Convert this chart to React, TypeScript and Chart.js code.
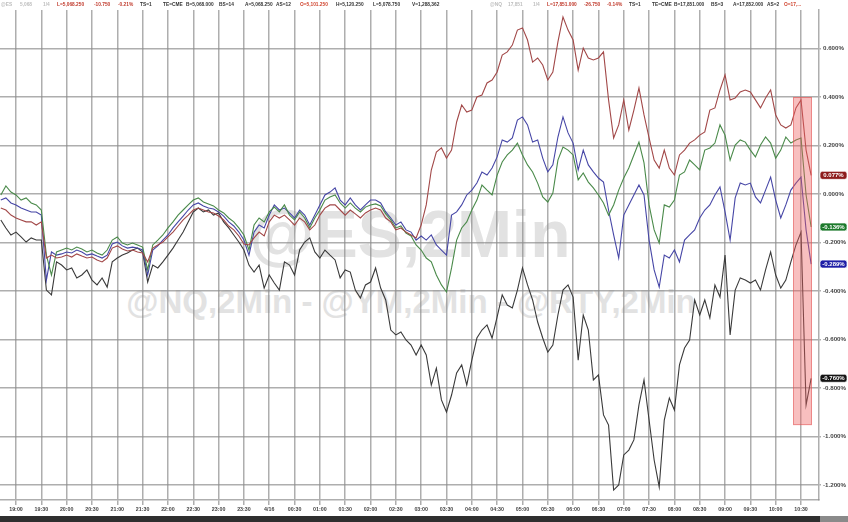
import React, { useEffect, useRef } from "react";
import { Chart, registerables } from "chart.js";

Chart.register(...registerables);

// Sampling grid: minutes relative to 19:00 (previous evening), 6-minute samples
const SAMPLE_START_MIN = -18;
const SAMPLE_STEP_MIN = 6;

// % change series
const nqRed = [
  -0.058, -0.066, -0.087, -0.099, -0.107, -0.115, -0.115, -0.128, -0.115, -0.264, -0.252,
  -0.264, -0.26, -0.252, -0.26, -0.247, -0.256, -0.264, -0.26, -0.272, -0.28,
  -0.264, -0.223, -0.214, -0.227, -0.235, -0.231, -0.239, -0.243, -0.28, -0.223,
  -0.21, -0.198, -0.177, -0.157, -0.132, -0.107, -0.087, -0.066, -0.058, -0.066,
  -0.074, -0.078, -0.091, -0.107, -0.132, -0.148, -0.173, -0.206, -0.21, -0.181,
  -0.157, -0.173, -0.115, -0.087, -0.099, -0.087, -0.107, -0.128, -0.099, -0.115,
  -0.148, -0.128, -0.087, -0.058, -0.045, -0.045, -0.066, -0.087, -0.066, -0.082,
  -0.099, -0.078, -0.066, -0.058, -0.066, -0.099, -0.115, -0.148, -0.14, -0.157,
  -0.169, -0.181, -0.128, -0.045, 0.099, 0.173, 0.19, 0.148, 0.181, 0.297,
  0.367, 0.338, 0.346, 0.4, 0.408, 0.458, 0.47, 0.503, 0.573, 0.586,
  0.614, 0.676, 0.685, 0.635, 0.544, 0.561, 0.532, 0.47, 0.503, 0.627,
  0.73, 0.676, 0.635, 0.511, 0.602, 0.561, 0.553, 0.561, 0.586, 0.388,
  0.231, 0.285, 0.388, 0.264, 0.346, 0.437, 0.326, 0.231, 0.14, 0.107,
  0.181, 0.107, 0.078, 0.161, 0.181, 0.21, 0.223, 0.243, 0.256, 0.346,
  0.355, 0.429, 0.491, 0.388, 0.396, 0.421, 0.429, 0.421, 0.388, 0.355,
  0.396, 0.429, 0.326, 0.285, 0.272, 0.285, 0.355, 0.388, 0.181, 0.077,
];

const esGreen = [
  -0.004, 0.033, 0.008, -0.004, -0.025, -0.016, -0.037, -0.045, -0.066, -0.252, -0.334,
  -0.239, -0.231, -0.223, -0.231, -0.219, -0.227, -0.239, -0.231, -0.243, -0.252,
  -0.231, -0.19, -0.177, -0.202, -0.21, -0.202, -0.21, -0.219, -0.313, -0.21,
  -0.19, -0.169, -0.14, -0.115, -0.087, -0.066, -0.045, -0.025, -0.016, -0.033,
  -0.041, -0.049, -0.066, -0.078, -0.099, -0.115, -0.14, -0.169, -0.231, -0.128,
  -0.099, -0.115, -0.074, -0.054, -0.074, -0.045, -0.087, -0.107, -0.074, -0.099,
  -0.14, -0.099, -0.066, -0.025, -0.012, -0.004, -0.037, -0.058, -0.037, -0.058,
  -0.074, -0.054, -0.045, -0.041, -0.049, -0.082, -0.107, -0.14, -0.132, -0.161,
  -0.173, -0.21, -0.231, -0.264, -0.28, -0.334, -0.375, -0.404, -0.305, -0.19,
  -0.14, -0.115, -0.066, -0.025, 0.037, 0.016, -0.004, 0.078, 0.132, 0.161,
  0.181, 0.21, 0.161, 0.12, 0.091, 0.045, -0.012, -0.033, 0.004, 0.14,
  0.194, 0.181, 0.161, 0.058, 0.087, 0.049, 0.025, -0.004, -0.037, -0.087,
  -0.045, 0.016, 0.066, 0.107, 0.161, 0.214, 0.128, -0.045, -0.148, -0.202,
  -0.045, -0.054, -0.025, 0.078, 0.091, 0.14, 0.12, 0.099, 0.181, 0.19,
  0.21, 0.285, 0.243, 0.14, 0.202, 0.223, 0.214, 0.181, 0.153, 0.202,
  0.235, 0.21, 0.148, 0.181, 0.235, 0.21, 0.223, 0.231, -0.004, -0.136,
];

const ymBlue = [
  -0.025, -0.016, -0.037, -0.045, -0.058, -0.066, -0.074, -0.074, -0.087, -0.355, -0.239,
  -0.252, -0.247, -0.239, -0.243, -0.231, -0.239, -0.252, -0.247, -0.256, -0.264,
  -0.252, -0.206, -0.198, -0.214, -0.223, -0.219, -0.223, -0.231, -0.334, -0.231,
  -0.214, -0.19, -0.169, -0.14, -0.115, -0.091, -0.066, -0.045, -0.037, -0.049,
  -0.058, -0.062, -0.074, -0.091, -0.115, -0.132, -0.157, -0.19, -0.252, -0.157,
  -0.128, -0.14, -0.087, -0.045, -0.066, -0.058, -0.078, -0.099, -0.066, -0.087,
  -0.128, -0.087, -0.045, -0.004, 0.008, 0.025, -0.025, -0.045, -0.016, -0.045,
  -0.066, -0.045, -0.025, -0.025, -0.037, -0.074, -0.099, -0.128, -0.115, -0.148,
  -0.157, -0.19, -0.173, -0.19, -0.169, -0.21, -0.231, -0.252, -0.087, -0.074,
  -0.045, -0.004, 0.016, 0.045, 0.091, 0.078, 0.107, 0.153, 0.223, 0.214,
  0.231, 0.305, 0.318, 0.285, 0.214, 0.223, 0.148, 0.091, 0.12, 0.235,
  0.318, 0.252, 0.21, 0.099, 0.181, 0.12, 0.091, 0.066, 0.049, -0.066,
  -0.169, -0.264, -0.087, -0.045, -0.004, 0.037, -0.004, -0.19, -0.313, -0.384,
  -0.252, -0.264, -0.231, -0.28, -0.19, -0.169, -0.148, -0.099, -0.066, -0.045,
  -0.004, 0.029, -0.074, -0.19, -0.016, 0.045, 0.037, 0.045, -0.012, -0.037,
  0.016, 0.07, -0.025, -0.099, -0.045, 0.016, 0.045, 0.07, -0.148, -0.289,
];

const rtyBlack = [
  -0.107, -0.14, -0.169, -0.157, -0.177, -0.198, -0.181, -0.19, -0.19, -0.396, -0.416,
  -0.28, -0.293, -0.313, -0.305, -0.346, -0.334, -0.313, -0.355, -0.375, -0.346,
  -0.384, -0.28, -0.264, -0.252, -0.243, -0.231, -0.223, -0.239, -0.363, -0.293,
  -0.305, -0.28, -0.252, -0.223, -0.19, -0.157, -0.115, -0.074, -0.058, -0.074,
  -0.066, -0.087, -0.078, -0.115, -0.14, -0.169, -0.198, -0.231, -0.293, -0.322,
  -0.293, -0.388, -0.334, -0.367, -0.396, -0.28, -0.293, -0.334, -0.231, -0.198,
  -0.181, -0.239, -0.264, -0.231, -0.252, -0.272, -0.346, -0.313, -0.322, -0.396,
  -0.429, -0.375, -0.363, -0.305, -0.388, -0.437, -0.561, -0.581, -0.569, -0.602,
  -0.623, -0.664, -0.623, -0.664, -0.788, -0.718, -0.849, -0.899, -0.829, -0.738,
  -0.705, -0.788, -0.685, -0.594, -0.561, -0.54, -0.594, -0.507, -0.416, -0.458,
  -0.47, -0.396, -0.305, -0.375, -0.437, -0.528, -0.594, -0.652, -0.623, -0.499,
  -0.396, -0.375, -0.425, -0.685, -0.499, -0.561, -0.767, -0.746, -0.911, -0.953,
  -1.221, -1.2, -1.076, -1.056, -1.014, -0.87, -0.767, -0.932, -1.097, -1.208,
  -0.932, -0.841, -0.891, -0.705, -0.635, -0.602, -0.437, -0.499, -0.437, -0.511,
  -0.375, -0.425, -0.252, -0.581, -0.396, -0.346, -0.355, -0.367, -0.355, -0.396,
  -0.313, -0.239, -0.334, -0.388, -0.355, -0.28, -0.21, -0.157, -0.87, -0.76,
];

const seriesNames = ["@NQ", "@ES", "@YM", "@RTY"];
const seriesColors = ["#a24848", "#4a8a4a", "#4646a6", "#3a3a3a"];
const badgeColors = ["#8e1c1c", "#1d7a2c", "#1e1ea6", "#151515"];

// x ticks (minutes from 19:00) and their labels
const xTickMinutes = [
  0, 30, 60, 90, 120, 150, 180, 210, 240, 270, 300, 330, 360, 390, 420, 450,
  480, 510, 540, 570, 600, 630, 660, 690, 720, 750, 780, 810, 840, 870, 900, 930,
];
const xTickLabels = [
  "19:00", "19:30", "20:00", "20:30", "21:00", "21:30", "22:00", "22:30",
  "23:00", "23:30", "4/16", "00:30", "01:00", "01:30", "02:00", "02:30",
  "03:00", "03:30", "04:00", "04:30", "05:00", "05:30", "06:00", "06:30",
  "07:00", "07:30", "08:00", "08:30", "09:00", "09:30", "10:00", "10:30",
];
const yTickValues = [0.6, 0.4, 0.2, 0, -0.2, -0.4, -0.6, -0.8, -1.0, -1.2];

// axis ranges
const X_MIN = -18.96;
const X_MAX = 951.3;
const Y_MIN = -1.2619;
const Y_MAX = 0.7588;

// highlighted window (data units)
const HIGHLIGHT_FROM_MIN = 920.5;
const HIGHLIGHT_TO_MIN = 943;
const HIGHLIGHT_TOP = 0.4;
const HIGHLIGHT_BOTTOM = -0.953;

const W = 848;
const H = 522;
const FONT = "'Liberation Sans', Arial, sans-serif";

const highlightPlugin = {
  id: "highlightBox",
  afterDatasetsDraw(chart: any) {
    const { ctx, scales } = chart;
    const x0 = scales.x.getPixelForValue(HIGHLIGHT_FROM_MIN);
    const x1 = scales.x.getPixelForValue(HIGHLIGHT_TO_MIN);
    const y0 = scales.y.getPixelForValue(HIGHLIGHT_TOP);
    const y1 = scales.y.getPixelForValue(HIGHLIGHT_BOTTOM);
    ctx.save();
    ctx.fillStyle = "rgba(238,96,96,0.40)";
    ctx.fillRect(x0, y0, x1 - x0, y1 - y0);
    ctx.strokeStyle = "rgba(225,80,80,0.5)";
    ctx.lineWidth = 1;
    ctx.strokeRect(x0 + 0.5, y0 + 0.5, x1 - x0 - 1, y1 - y0 - 1);
    ctx.restore();
  },
};

const badgePlugin = {
  id: "lastValueBadges",
  afterDraw(chart: any) {
    const { ctx, scales } = chart;
    const ys = scales.y;
    chart.data.datasets.forEach((ds: any, i: number) => {
      const last = ds.data[ds.data.length - 1].y;
      const py = ys.getPixelForValue(last);
      const left = ys.left + 1;
      const w = ys.right - ys.left - 2;
      const h = 8;
      const top = py - h / 2;
      ctx.save();
      ctx.fillStyle = badgeColors[i];
      ctx.strokeStyle = "rgba(255,255,255,0.9)";
      ctx.lineWidth = 0.8;
      ctx.beginPath();
      const r = 2.5;
      ctx.moveTo(left + r, top);
      ctx.lineTo(left + w - r, top);
      ctx.quadraticCurveTo(left + w, top, left + w, top + r);
      ctx.lineTo(left + w, top + h - r);
      ctx.quadraticCurveTo(left + w, top + h, left + w - r, top + h);
      ctx.lineTo(left + r, top + h);
      ctx.quadraticCurveTo(left, top + h, left, top + h - r);
      ctx.lineTo(left, top + r);
      ctx.quadraticCurveTo(left, top, left + r, top);
      ctx.closePath();
      ctx.fill();
      ctx.stroke();
      ctx.fillStyle = "#ffffff";
      ctx.font = `bold 6px ${FONT}`;
      ctx.textAlign = "center";
      ctx.textBaseline = "middle";
      ctx.fillText(last.toFixed(3) + "%", left + w / 2, py + 0.5);
      ctx.restore();
    });
  },
};

const headerItems: [string, string, number][] = [
  ["@ES", "#bdbdbd", 1],
  ["5,068", "#bdbdbd", 20],
  ["1/4", "#bdbdbd", 43],
  ["L=5,068.250", "#c0392b", 57],
  ["-10.750", "#c0392b", 94],
  ["-0.21%", "#c0392b", 118],
  ["TS=1", "#333", 140],
  ["TE=CME", "#333", 163],
  ["B=5,068.000", "#333", 186],
  ["BS=14", "#333", 219],
  ["A=5,068.250", "#333", 245],
  ["AS=12", "#333", 276],
  ["O=5,101.250", "#d0442e", 300],
  ["H=5,120.250", "#333", 336],
  ["L=5,078.750", "#333", 373],
  ["V=1,288,362", "#333", 412],
  ["@NQ", "#bdbdbd", 490],
  ["17,851", "#bdbdbd", 508],
  ["1/4", "#bdbdbd", 533],
  ["L=17,851.000", "#c0392b", 547],
  ["-26.750", "#c0392b", 584],
  ["-0.14%", "#c0392b", 607],
  ["TS=1", "#333", 629],
  ["TE=CME", "#333", 652],
  ["B=17,851.000", "#333", 674],
  ["BS=3", "#333", 711],
  ["A=17,852.000", "#333", 733],
  ["AS=2", "#333", 767],
  ["O=17,...", "#d0442e", 784],
];

export default function App() {
  const canvasRef = useRef<HTMLCanvasElement | null>(null);

  useEffect(() => {
    const toPoints = (vals: number[]) =>
      vals.map((v, i) => ({ x: SAMPLE_START_MIN + i * SAMPLE_STEP_MIN, y: v }));
    const all = [nqRed, esGreen, ymBlue, rtyBlack];
    const gridColor = "rgba(140,140,140,0.7)";

    const chart = new Chart(canvasRef.current as HTMLCanvasElement, {
      type: "line",
      data: {
        datasets: all.map((vals, i) => ({
          label: seriesNames[i],
          data: toPoints(vals),
          borderColor: seriesColors[i],
          borderWidth: 1.1,
          pointRadius: 0,
          tension: 0,
          fill: false,
        })),
      },
      options: {
        responsive: false,
        animation: false,
        devicePixelRatio: 1,
        layout: { padding: { top: 10, left: 0, right: 0, bottom: 0 } },
        plugins: { legend: { display: false }, tooltip: { enabled: false } },
        scales: {
          x: {
            type: "linear",
            min: X_MIN,
            max: X_MAX,
            afterBuildTicks: (scale: any) => {
              scale.ticks = xTickMinutes.map((v) => ({ value: v }));
            },
            afterFit: (scale: any) => {
              scale.height = 22;
              scale.paddingLeft = 0;
              scale.paddingRight = 0;
            },
            grid: { color: gridColor, lineWidth: 1.5, tickLength: 5 },
            border: { display: true, color: gridColor, width: 1.5 },
            ticks: {
              autoSkip: false,
              maxRotation: 0,
              minRotation: 0,
              padding: 1,
              color: "#444",
              font: { family: FONT, size: 5.3, weight: "bold" },
              callback: (_v: any, idx: number) => xTickLabels[idx],
            },
          },
          y: {
            type: "linear",
            position: "right",
            min: Y_MIN,
            max: Y_MAX,
            afterBuildTicks: (scale: any) => {
              scale.ticks = yTickValues.map((v) => ({ value: v }));
            },
            afterFit: (scale: any) => {
              scale.width = 29;
            },
            grid: { color: gridColor, lineWidth: 1.5, tickLength: 2 },
            border: { display: true, color: gridColor, width: 1.5 },
            ticks: {
              autoSkip: false,
              padding: 2,
              color: "#444",
              font: { family: FONT, size: 6.2, weight: "bold" },
              callback: (v: any) => Number(v).toFixed(3) + "%",
            },
          },
        },
      },
      plugins: [highlightPlugin, badgePlugin],
    } as any);

    return () => chart.destroy();
  }, []);

  return (
    <div
      style={{
        position: "fixed",
        left: 0,
        top: 0,
        width: W,
        height: H,
        background: "#ffffff",
        overflow: "hidden",
        fontFamily: FONT,
      }}
    >
      <div
        style={{
          position: "absolute",
          left: 0,
          top: 201,
          width: 820,
          textAlign: "center",
          fontSize: 66,
          lineHeight: "66px",
          fontWeight: "bold",
          color: "#e2e2e2",
          whiteSpace: "nowrap",
        }}
      >
        @ES,2Min
      </div>
      <div
        style={{
          position: "absolute",
          left: 0,
          top: 285,
          width: 822,
          textAlign: "center",
          fontSize: 33,
          lineHeight: "33px",
          fontWeight: "bold",
          color: "#e2e2e2",
          whiteSpace: "nowrap",
        }}
      >
        @NQ,2Min - @YM,2Min - @RTY,2Min
      </div>
      <canvas
        ref={canvasRef}
        width={W}
        height={H}
        style={{ position: "absolute", left: 0, top: 0, width: W, height: H }}
      />
      {headerItems.map(([text, color, left], i) => (
        <span
          key={i}
          style={{
            position: "absolute",
            top: 1,
            left,
            fontSize: 4.8,
            lineHeight: "7px",
            fontWeight: "bold",
            color,
            whiteSpace: "nowrap",
          }}
        >
          {text}
        </span>
      ))}
      <div
        style={{
          position: "absolute",
          left: 0,
          top: 516,
          width: 820,
          height: 6,
          background: "#2f2f2f",
        }}
      />
      <div
        style={{
          position: "absolute",
          left: 820,
          top: 516,
          width: 28,
          height: 6,
          background: "#8a8a8a",
        }}
      />
    </div>
  );
}
